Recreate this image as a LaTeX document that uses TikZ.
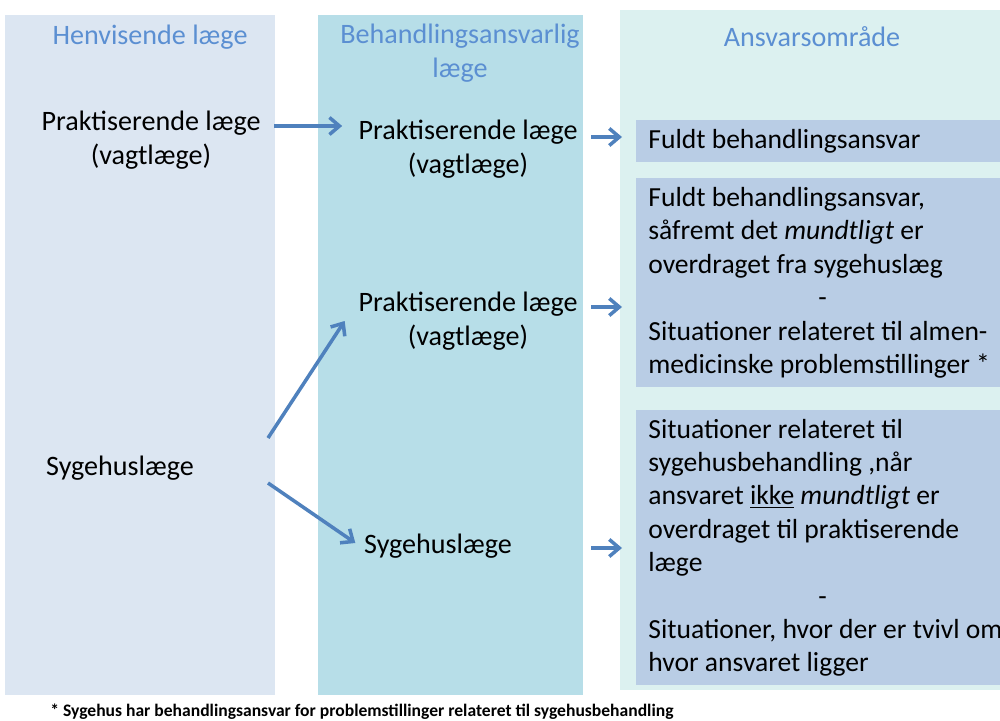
\documentclass[tikz,border=0pt]{standalone}
\usepackage{fontspec}
\setmainfont{Carlito}
\usetikzlibrary{arrows.meta}
\definecolor{colA}{HTML}{DCE6F2}
\definecolor{colB}{HTML}{B7DEE8}
\definecolor{colC}{HTML}{DCF1F0}
\definecolor{boxfill}{HTML}{B9CDE5}
\definecolor{headblue}{HTML}{5B8FD2}
\definecolor{arrowblue}{HTML}{4F81BD}
\tikzset{
  doc/.style={align=center, font=\fontsize{16}{19.5}\selectfont, inner sep=2pt},
  head/.style={align=center, text=headblue, font=\fontsize{16}{19.5}\selectfont},
  area/.style={fill=boxfill, anchor=north west, minimum width=7.28cm, inner xsep=0.24cm,
    inner ysep=0pt, text width=7.4cm, align=flush left, font=\fontsize{15.7}{19}\selectfont},
  pil/.style={color=arrowblue, line width=2pt, -{Straight Barb[length=0.2cm, width=0.34cm]}},
}
\begin{document}
\begin{tikzpicture}[x=0.02cm, y=-0.02cm]
\useasboundingbox (0,0) rectangle (1000,720);
\fill[white] (0,0) rectangle (1000,720);
% columns
\fill[colA] (5,15) rectangle (275,695);
\fill[colB] (318,15) rectangle (583,695);
\fill[colC] (620,10) rectangle (1000,690);
\node[head] (headA) at (150,37) {Henvisende læge};
\node[head] (headB) at (460,53) {Behandlingsansvarlig\\læge};
\node[head] (headC) at (812,37) {Ansvarsområde};
% henvisende
\node[doc] (praksisA) at (151,140) {Praktiserende læge\\(vagtlæge)};
\node[doc] (sygA) at (120,468) {Sygehuslæge};
\coordinate (sygUp) at (268,438);
\coordinate (sygDown) at (268,483);
% behandlingsansvarlig
\node[doc] (praksisB) at (468,149) {Praktiserende læge\\(vagtlæge)};
\node[doc] (praksisC) at (468,321) {Praktiserende læge\\(vagtlæge)};
\node[doc] (sygB) at (438,546) {Sygehuslæge};
% ansvar
\node[area, minimum height=0.84cm] (ansvarA) at (636,120) {Fuldt behandlingsansvar};
\node[area, minimum height=4.18cm] (ansvarB) at (636,178) {Fuldt behandlingsansvar,\\
  såfremt det \textit{mundtligt} er\\
  overdraget fra sygehuslæg\\
  \hspace*{3.4cm}-\\
  Situationer relateret til almen-\\
  medicinske problemstillinger *};
\node[area, minimum height=5.5cm] (ansvarC) at (636,410) {Situationer relateret til\\
  sygehusbehandling ,når\\
  ansvaret \underline{ikke} \textit{mundtligt} er\\
  overdraget til praktiserende\\
  læge\\
  \hspace*{3.4cm}-\\
  Situationer, hvor der er tvivl om\\
  hvor ansvaret ligger};
% arrows
\draw[pil] ([xshift=0.2cm]praksisA.east |- 0,126) -- ([xshift=-0.25cm]praksisB.west |- 0,126);
\draw[pil] (sygUp) -- ([xshift=-0.2cm]praksisC.west);
\draw[pil] (sygDown) -- ([xshift=-0.1cm,yshift=0.06cm]sygB.west);
\draw[pil, shorten <=0.2cm, shorten >=0.28cm] (praksisB.east |- 0,137) -- (ansvarA.west |- 0,137);
\draw[pil, shorten <=0.2cm, shorten >=0.28cm] (praksisC.east |- 0,307) -- (ansvarB.west |- 0,307);
\draw[pil, shorten <=0.2cm, shorten >=0.28cm] (praksisC.east |- 0,548) -- (ansvarC.west |- 0,548);
\node[anchor=west, font=\fontsize{10}{12}\selectfont\bfseries, inner sep=0pt] (note) at (50,712) {* Sygehus har behandlingsansvar for problemstillinger relateret til sygehusbehandling};
\end{tikzpicture}
\end{document}
